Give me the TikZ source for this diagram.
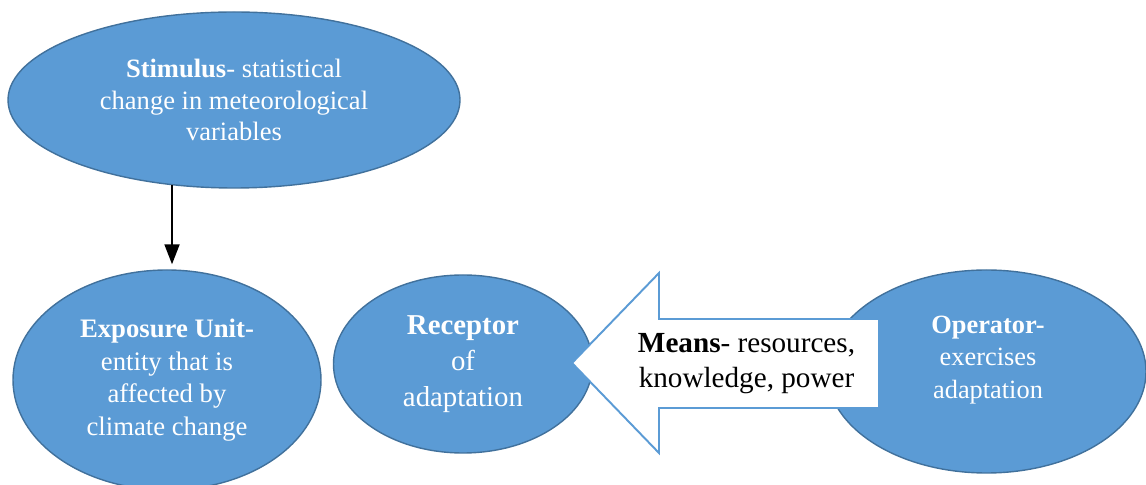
\documentclass[tikz,border=0pt]{standalone}
\usepackage{fontspec}
\setmainfont{Liberation Serif}
\usetikzlibrary{arrows.meta, positioning, shapes.geometric}
\definecolor{blobblue}{HTML}{5B9BD5}
\definecolor{blobedge}{HTML}{41719C}

\begin{document}
\begin{tikzpicture}[
  blob/.style={ellipse, draw=blobedge, line width=0.8pt, fill=blobblue, inner sep=0pt,
               text=white, align=center, font=\fontsize{15.2}{18.4}\selectfont},
  txt/.style={align=center, inner sep=0pt, font=\fontsize{15.2}{18.4}\selectfont},
  meansarr/.style={draw=blobblue, line width=1.1pt, fill=white, line join=miter},
  arr/.style={-{Triangle[length=0.4cm, width=0.3cm]}, line width=1.1pt}
]
  \useasboundingbox (0,0) rectangle (22.92,9.70);
  \node[blob, minimum width=9.04cm, minimum height=3.52cm,
        font=\fontsize{15.1}{17.9}\selectfont] (stim) at (4.68,7.70)
    {\textbf{Stimulus}- statistical\\change in meteorological\\variables};
  \node[blob, minimum width=6.16cm, minimum height=4.4cm,
        font=\fontsize{15.2}{18.6}\selectfont] (expo) at (3.34,2.10)
    {\textbf{Exposure Unit-}\\entity that is\\affected by\\climate change};
  \node[blob, minimum width=5.18cm, minimum height=3.56cm,
        font=\fontsize{16.4}{20.4}\selectfont] (rec) at (9.26,2.42)
    {\textbf{Receptor}\\of\\adaptation};
  \node[blob, minimum width=6.38cm, minimum height=4.06cm] (oper) at (19.73,2.27) {};
  % block arrow from operator to receptor
  \draw[meansarr] (11.44,2.44) -- (13.18,4.24) -- (13.18,3.32) -- (17.58,3.32)
    -- (17.58,1.54) -- (13.18,1.54) -- (13.18,0.64) -- cycle;
  \node[txt, font=\fontsize{16.6}{19.9}\selectfont] (means) at (14.93,2.42)
    {\textbf{Means}- resources,\\knowledge, power};
  \node[txt, text=white, font=\fontsize{15}{18.5}\selectfont] (opertxt) at (19.76,2.50)
    {\textbf{Operator-}\\exercises\\adaptation};
  \draw[arr, shorten >=0.1cm] (stim.234) -- (stim.234 |- expo.north);
\end{tikzpicture}
\end{document}
